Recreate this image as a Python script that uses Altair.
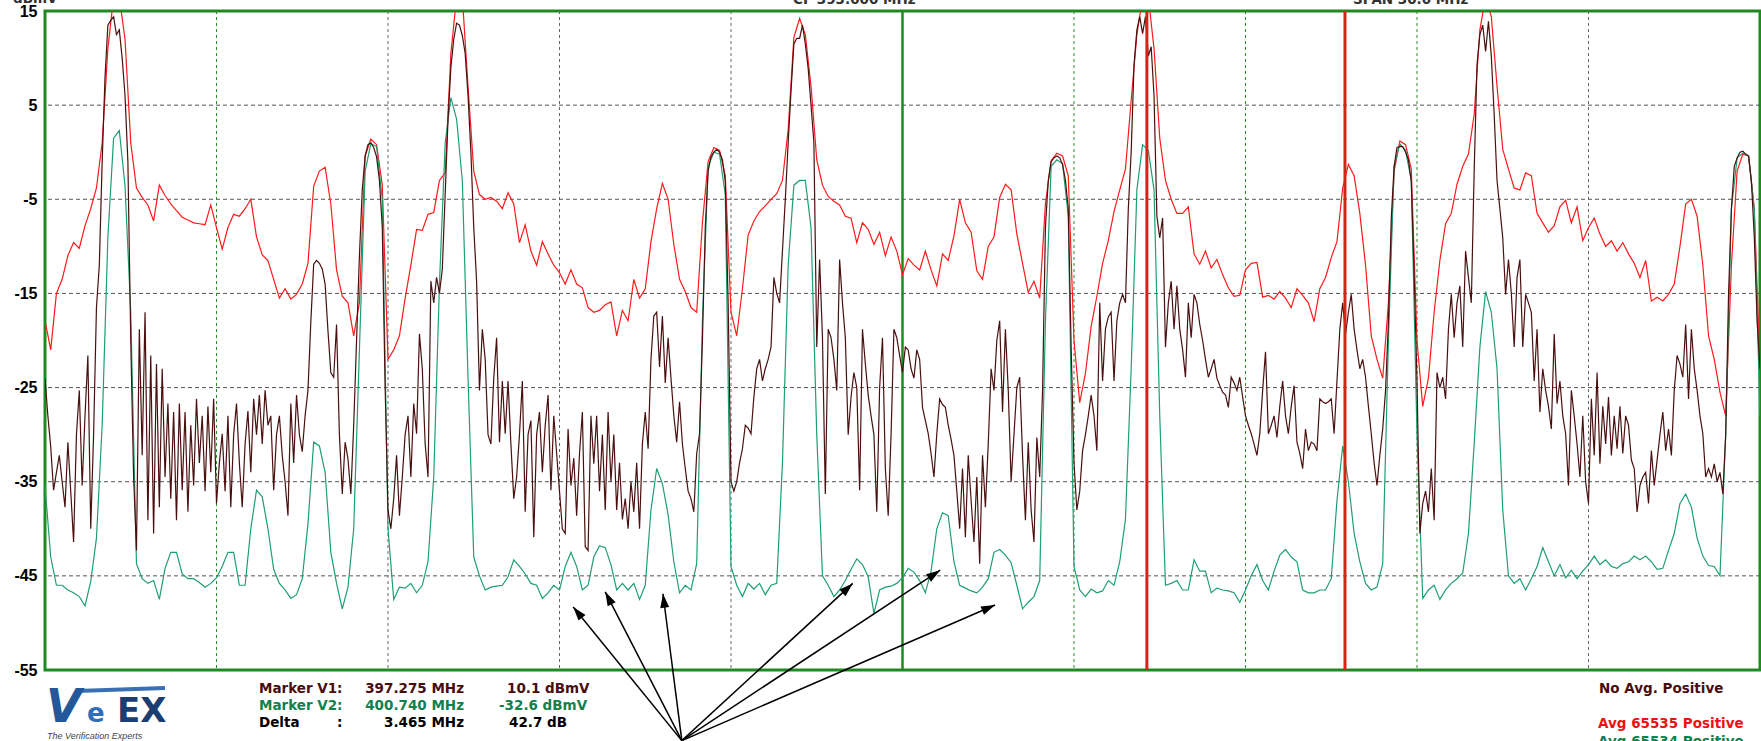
import math
import altair as alt
import pandas as pd

# ---------------- axis ranges ----------------
F_START, F_STOP = 378.0, 408.0          # MHz (CF 393 MHz, span 30 MHz)
DB_BOTTOM, DB_TOP = -55, 15             # dBmV
PLOT_W, PLOT_H = 1715, 659
Y_TICKS = [15, 5, -5, -15, -25, -35, -45, -55]
H_GRID = [5, -5, -15, -25, -35, -45]
V_GRID_GREEN = [381, 396, 399, 402]
V_GRID_GREY = [384, 387, 390, 405]
CENTER = [393]
MARKERS = [397.275, 400.740]

# ---------------- red trace (Avg 65535 Positive), 0.1 MHz step ----------------
red_1 = [-17.9, -21, -15, -13.5, -11, -9.6, -10.2, -7.8, -6, -3.8,
         1, 11, 16.5, 16.5, 12, 1, -3.8, -4.8, -5.6, -7.3,
         -3.5, -4.6, -5.5, -6.2, -6.9, -7.2, -7.5, -7.6, -7.7, -5.6,
         -8, -10.3, -8, -6.6, -6.8, -6, -5, -9, -10.9, -11.5,
         -13.5, -15.5, -14.5, -15.6, -15.1, -14, -11.8, -3.6, -2, -1.6,
         -5.5, -12.5, -15.3, -16, -19.5, -16, -0.4, 1.4, 0.8, -3.5,
         -22, -21, -19.5, -15.5, -12, -8.2, -8.3, -6.6, -6.4, -3,
         -2.2, 10.5, 16.5, 16.5, 7, -2]
red_2 = [-4.5, -5, -4.8, -5.2, -6, -4.3, -5.5, -9.6, -7.7, -10.5,
         -12, -9.5, -10.8, -12, -12.8, -14, -12.5, -14, -14.4, -16.5,
         -17, -16.8, -16.2, -15.9, -19.5, -16.8, -17.9, -13.5, -15.5, -14.5,
         -9.5, -6, -3.3, -5, -9.8, -13.5, -14.8, -16.5, -17, -7.5,
         -1, 0.5, 0.2, -2.5, -17, -19.5, -14.5, -8.8, -7.3, -6.3,
         -5.7, -5, -4.4, -3, 2.4, 12.2, 14.2, 12.5, 7, -0.8,
         -3.5, -4.7, -5.2, -5.6, -6.8, -7, -9.6, -7.5, -8.2, -9.8,
         -8.5, -11, -9, -10.5, -13]
red_3 = [-11.3, -12, -12.5, -10.5, -12.5, -14.2, -10.8, -11.5, -8.9, -5,
         -7.5, -8.5, -12.6, -13.5, -10, -9, -4.8, -3.4, -4, -8.7,
         -11.8, -14.9, -13.7, -15.5, -5.5, -0.9, -0.1, -0.4, -2.5, -20,
         -26.6, -23.5, -18.5, -15.3, -11.8, -9.4, -6.3, -4, -1.8, 5.5,
         12.5, 16.5, 16.5, 11, 1.5, -3, -5, -6.5, -6.5, -5.8,
         -10.8, -11.9, -10.5, -12.3, -11.4, -13, -14.4, -15.3, -15.2, -12.5,
         -11.8, -11.7, -15.4, -15.2, -15.6, -14.8, -15.5, -16.5, -14.5, -15.2,
         -16, -18, -14.5, -13.3, -11.2, -9.5]
red_4 = [-3.8, -1.3, -2.5, -6.5, -12, -19.5, -22, -24, -16, -2,
         1.2, 0.8, -1.8, -20, -27, -24, -17, -11.5, -7.6, -6.5,
         -3.4, -1.5, -0.2, 4, 13, 16.5, 14.4, 7, 0.3, -1.8,
         -3.8, -4, -2.2, -2.5, -6.5, -7.5, -8.5, -7.8, -5.8, -5.1,
         -7.5, -5.8, -9.4, -8, -7, -8.7, -10, -9.4, -10.5, -9.6,
         -10.8, -11.8, -13.3, -11.5, -15.8, -15.4, -15.8, -15.1, -14, -10,
         -5.5, -5, -6.8, -12, -19.5, -22, -25.5, -28, -12, -2,
         -0.2, -0.4, -6, -23]

# ---------------- green trace (Avg 65534 Positive), 0.1 MHz step ----------------
green_1 = [-35.4, -43, -46, -46, -46.5, -46.8, -47.2, -48.2, -45.6, -41,
           -29, -9, 1.5, 2.3, -3.6, -17, -43.7, -45.3, -45.8, -45.5,
           -47.5, -44.2, -42.5, -42.5, -44.8, -45.3, -45.3, -45.7, -46.2, -45.8,
           -45.2, -44, -42.5, -42.5, -46, -46, -40, -35.9, -36.6, -40,
           -44.3, -45.8, -46.5, -47.4, -47, -45.3, -39.5, -30.8, -31.2, -34,
           -42.5, -45.8, -48.5, -46.2, -40, -21, -2, 0.9, 0.6, -5,
           -40, -47.5, -46.2, -46.3, -45.8, -46.8, -46, -43.5, -34.5, -14,
           1, 5.8, 3.5, -3, -24, -43]
green_2 = [-45, -46.5, -46.2, -46.1, -46, -45.1, -43.3, -44, -44.8, -45.8,
           -46, -47.4, -46.8, -46, -46.5, -44, -42.5, -44, -46.5, -46,
           -43, -41.8, -42, -43.8, -46.5, -45.8, -46.5, -45.8, -47.5, -46,
           -38, -33.6, -35.2, -38.5, -43.5, -46.8, -46, -46.5, -43.7, -18,
           -1.5, 0, -0.2, -4.5, -44, -46, -47.2, -45.8, -46.4, -45.8,
           -47, -46, -45.8, -33, -12, -3.5, -3, -3, -8, -30,
           -45, -46, -47.2, -46.5, -45.5, -44.3, -43.2, -43.8, -45.1, -49,
           -46.5, -46.2, -46.1, -45.8, -45.2]
green_3 = [-44.2, -44.6, -45.5, -46.8, -44.5, -40, -38.3, -38.6, -43.5, -46,
           -46.3, -46.6, -46.8, -46.2, -45.3, -42.5, -42.2, -42.8, -43.6, -46,
           -48.5, -47.8, -47.2, -45.5, -18, -1.5, -0.8, -1.2, -6.8, -44,
           -46.5, -47.2, -46.4, -46.8, -46.6, -45.5, -46, -43.5, -39, -23,
           -4, 0.8, 0.2, -4, -28, -46, -45.8, -45.5, -46.5, -46.5,
           -43.3, -44.5, -44.5, -46.8, -46.3, -46.5, -46.6, -46.8, -47.8, -46.5,
           -45, -43.8, -45.5, -46.5, -44.5, -42.8, -42.2, -43, -43.5, -46.5,
           -46.8, -46.8, -46.5, -46.5, -45.3, -37, -31.2, -35, -40.5, -43.5,
           -45.8, -46.5, -46.2, -43.7, -20, -1.5, 0.9, 0.2, -3, -30,
           -47.4, -46.5, -46, -47.5, -46.5, -45.8, -45.3, -44.7, -40.5, -31,
           -20.7, -14.8, -17, -23, -38, -45, -45.8, -45.3, -46.5, -45.3,
           -44, -42, -43.5, -45, -43.8, -45.2, -44.4, -45.3, -44.5, -43.8,
           -42.9, -43.8, -43.3, -44, -44.2, -43.7, -43.5, -42.9, -43.3, -42.9,
           -43.5, -44.3, -44.2, -42.3, -40.5, -37.3, -36.3, -37.7, -41, -42.9,
           -43.9, -44, -45, -30, -6, -0.6, -0.1, -0.4, -6, -28]

# ---------------- dark trace (No Avg. Positive), 0.05 MHz step ----------------
dark_1 = [-24, -28, -31.3, -35.9, -34, -32.2, -35, -37.7, -30.8, -36,
          -41.4, -30, -25.3, -35.4, -28, -21.6, -40, -30, -16.5, -12,
          -1, 8, 13.5, 14, 14.4, 12.5, 13, 10, 6, -1,
          -20, -34.5, -42.3, -18.8, -32.2, -17, -39.1, -21.6, -40.5, -22.5,
          -37.7, -23, -34.5, -26.7, -36.8, -27.6, -39.1, -26.7, -35.9, -27.6,
          -38.2, -29, -35.4, -26.2, -33, -28, -36, -27, -34]
dark_2 = [-26.2, -37.3, -33, -29.9, -36, -28, -37.7, -30, -26.7, -33,
          -37.7, -31, -27.5, -34, -26.2, -30, -25.8, -31, -25.3, -29,
          -28, -35.9, -30, -28, -32.2, -35, -38.6, -26.7, -33, -25.8,
          -30, -31.8, -28, -25.3, -18, -11.9, -11.5, -11.8, -12.4, -14,
          -19, -23.4, -23.9, -18.3, -30, -36.3, -30.8, -32.6, -36.3, -29,
          -20, -11, -4, -0.4, 0.8, 1, 0.5, -0.5, -3, -8,
          -25, -38, -40, -36.8, -32.2, -38.6, -34.5, -30, -28, -34.5,
          -26.7, -29.9, -19.3, -23, -31, -34.5, -13.7, -16, -13.3, -15,
          -12.4, -4.5, 3.5, 9, 12, 13.7, 13.5, 12.4, 10.5, 6,
          0, -8, -13.7, -25.3]
dark_3 = [-18.8, -22, -30, -31, -24, -19.7, -30.8, -24.3, -29.9, -24.3,
          -31, -36.8, -34.5, -30, -24.3, -38.2, -30, -28.5, -40.9, -30,
          -27.6, -34, -29, -25.8, -35.9, -28, -32, -36, -40, -40.5,
          -29.4, -35.4, -32.5, -38.6, -32, -27.6, -41.9, -42.3, -28, -33.1,
          -28, -36, -30, -38, -27.6, -35, -30, -38, -33, -39,
          -36.8, -40, -35, -38.2, -33, -40, -31, -27.6, -31.5, -22,
          -17.4, -17, -22.8, -17.4, -24.5, -19.7, -24, -28, -30.8, -26.5,
          -31, -33.6, -36, -36.8, -38.2, -32, -29.9, -20, -8, -2,
          -0.5, 0, 0.3, 0, -0.8, -3.1, -16, -35, -36, -35,
          -33, -31.5, -29, -29.3, -29.9, -26, -23, -22, -24.3, -23,
          -22, -20.7, -13.3, -15, -16, -10.5, -5, 1, 6.5, 11.5,
          12.1, 12.1, 13.5, 11.5, 8.9, 5, 1, -20.7, -11.4, -19.7,
          -36.3, -18.8, -19.7, -22, -25.3, -11.4, -16, -19.7, -30, -26,
          -23.4, -25, -35.9, -18.8, -22.5, -25.8, -28, -30, -38.2, -25,
          -19.7, -33.6, -38.6, -30, -18.8, -19.7, -21.6, -23.4, -20.7, -21]
dark_4 = [-23, -24, -21, -22, -27.1, -28.5, -29.9, -32, -34.5, -29.9,
          -26.2, -26.8, -27.1, -29, -30.5, -32.2, -36, -40, -33.6, -40.9,
          -32.2, -37, -41.4, -34.5, -43.7, -32.2, -37.7, -31, -23, -25.3,
          -20, -17.9, -27.6, -18.8, -25.3, -35, -30, -25, -23.9, -32.2,
          -39.1, -30.8, -38, -41.4, -30.3, -34.5, -25.3, -8, -3, -1,
          -0.6, -0.4, -0.6, -1.3, -3, -6, -20.7, -33, -38, -36,
          -31.7, -30, -28, -25.8, -28, -31.7, -16, -24.3, -18.8, -17.5,
          -17, -24.3, -17.9, -16, -15.1, -16, -6, 0, 9.3, 13,
          14.4, 12.6, 14.4, 10.2, 11.2, 6, -6.8, -9.1, -7, -20.7,
          -16, -13.7, -18.8, -14.2, -18.8, -21, -23.9, -16, -19.7, -15.1,
          -16, -18.3, -20, -22, -23.9, -23, -22, -24, -24.8, -25.5,
          -25.8, -27.1, -23.9, -24.5, -25.3, -23.9, -26, -28, -29, -29.9,
          -31, -32.2, -29.9, -25.3, -21.2, -29.9, -29, -28, -30.3, -27,
          -24.3, -28, -29.9, -27, -24.8, -30.8, -32, -33.6, -29.4, -31.7,
          -30.8, -31, -31.7, -26.2, -26.5, -26.7, -26.5, -26.2, -29.9, -24.3,
          -18.8]
dark_5 = [-16, -19.3, -17, -15.1, -18.8, -21, -23, -22, -23.9, -27,
          -29.9, -33, -35.4, -32.2, -29.4, -25.3, -18, -7, -1.5, 0.5,
          0.6, 0.6, 0, -0.8, -3.1, -13, -24.3, -40.5, -37.3, -36,
          -38.2, -33.6, -39.1, -23.4, -25, -23.9, -26.2, -18.8, -15.1, -19.7,
          -16, -14.2, -20.7, -10.5, -13.3, -16, -2, 9.3, 12.5, 13.5,
          10.7, 13.9, 10.2, 4, -3, -6, -9.1, -15.1, -11.4, -15,
          -20.7, -13.3, -11.4, -20.7, -15.1, -16, -17, -24.3, -18.8, -27.6,
          -23, -25.3, -27, -29.4, -19.3, -26.7, -24.3, -28, -29.9, -35.4,
          -25.3, -28, -31, -34.5, -28, -35, -37.3, -26.2, -32.2, -23.4,
          -33.1, -27, -31, -26, -32.2, -28, -31.5, -27, -32, -28,
          -29, -32.7, -33.6, -38.2, -35.4, -34.5, -34, -37.3, -31.7, -35.4,
          -32.7, -30, -27.6, -31.7, -29.4, -32.2, -25.3, -21.6, -22.5, -23.9,
          -18.3, -26.2, -18.8, -23, -25.3, -28, -29.9, -34.5, -33.6, -34.5,
          -33.1, -35, -34, -36.3, -30, -15, -6, -1.5, -0.6, 0,
          0.1, -0.2, -0.4, -3.1, -9, -18, -23]

# ---------------- arrows (tips in MHz / dBmV) ----------------
ARROW_TIP_F = [387.24, 387.80, 388.81, 392.13, 393.66, 394.62]
ARROW_TIP_DB = [-48.3, -46.7, -46.9, -45.8, -44.4, -48.1]
ARROW_FROM = (389.14, -62.5)


def series(segments, step):
    f, v = [], []
    for start, vals in segments:
        for i, val in enumerate(vals):
            f.append(round(start + i * step, 3))
            v.append(val)
    return pd.DataFrame({"f": f, "v": v})


red_df = series([(378.0, red_1), (385.6, red_2), (393.1, red_3), (400.7, red_4)], 0.1)
green_df = series([(378.0, green_1), (385.6, green_2), (393.1, green_3)], 0.1)
dark_df = series([(378.0, dark_1), (380.95, dark_2), (385.65, dark_3),
                  (393.15, dark_4), (400.70, dark_5)], 0.05)

xs = alt.Scale(domain=[F_START, F_STOP], nice=False, zero=False)
ys = alt.Scale(domain=[DB_BOTTOM, DB_TOP], nice=False, zero=False)
yaxis = alt.Axis(values=Y_TICKS, labelExpr="'' + datum.value", labelFont="Liberation Sans",
                 labelFontWeight="bold", labelFontSize=16, labelColor="black",
                 ticks=False, domain=False, grid=False, labelPadding=8, title=None,
                 labelOverlap=False)


def Y(field):
    return alt.Y(field, scale=ys, axis=yaxis)


def X(field):
    return alt.X(field, scale=xs, axis=None)


hgrid = alt.Chart(pd.DataFrame({"y": H_GRID})).mark_rule(
    color="#555555", strokeDash=[4, 3], strokeWidth=1).encode(y=Y("y:Q"))

vgrid_g = alt.Chart(pd.DataFrame({"x": V_GRID_GREEN})).mark_rule(
    color="#2a8c2a", strokeDash=[3, 3], strokeWidth=1).encode(x=X("x:Q"))
vgrid_k = alt.Chart(pd.DataFrame({"x": V_GRID_GREY})).mark_rule(
    color="#666666", strokeDash=[3, 3], strokeWidth=1).encode(x=X("x:Q"))
center = alt.Chart(pd.DataFrame({"x": CENTER})).mark_rule(
    color="#1f8a1f", strokeWidth=2.5).encode(x=X("x:Q"))


def trace(df, color, width=1.2):
    return alt.Chart(df).mark_line(color=color, strokeWidth=width, clip=True).encode(
        x=X("f:Q"), y=Y("v:Q"), order="f:Q")


red_line = trace(red_df, "#ff1a1a")
green_line = trace(green_df, "#1e9e72")
dark_line = trace(dark_df, "#4a1010")

markers = alt.Chart(pd.DataFrame({"x": MARKERS})).mark_rule(
    color="#d42418", strokeWidth=3).encode(x=X("x:Q"))

# arrows
px_per_mhz = PLOT_W / (F_STOP - F_START)
px_per_db = PLOT_H / (DB_TOP - DB_BOTTOM)
arr = pd.DataFrame({"x1": ARROW_TIP_F, "y1": ARROW_TIP_DB})
arr["x0"] = ARROW_FROM[0]
arr["y0"] = ARROW_FROM[1]
arr["ang"] = [
    (math.degrees(math.atan2((a - ARROW_FROM[0]) * px_per_mhz,
                             (b - ARROW_FROM[1]) * px_per_db)) + 360) % 360
    for a, b in zip(ARROW_TIP_F, ARROW_TIP_DB)]

arrow_lines = alt.Chart(arr).mark_rule(color="black", strokeWidth=1.5, clip=False).encode(
    x=X("x0:Q"), y=Y("y0:Q"), x2="x1:Q", y2="y1:Q")
arrow_heads = alt.Chart(arr).mark_point(
    shape="M0,0L-0.64,2L0.64,2Z", size=196, filled=True, opacity=1,
    color="black", clip=False).encode(
    x=X("x1:Q"), y=Y("y1:Q"), angle=alt.Angle("ang:Q", scale=None))


def label(txt, px, py, color="black", size=13.5, font="DejaVu Sans", weight="bold",
          style="normal", align="left", baseline="middle"):
    return alt.Chart(pd.DataFrame({"t": [txt]})).mark_text(
        align=align, baseline=baseline, font=font, fontSize=size, fontWeight=weight,
        fontStyle=style, color=color).encode(
        text="t:N", x=alt.value(px), y=alt.value(py))


BROWN = "#4a0c0c"
GREEN_T = "#10804c"
texts = [
    label("dBmV", -32, -8, color="#333333", baseline="alphabetic"),
    label("CF  393.000 MHz", 748, -7, color="#333333", baseline="alphabetic"),
    label("SPAN    30.0 MHz", 1308, -7, color="#333333", baseline="alphabetic"),
    label("Marker V1", 214, 678, color=BROWN),
    label(":", 292, 678, color=BROWN),
    label("397.275 MHz", 419, 678, color=BROWN, align="right"),
    label("10.1 dBmV", 462, 678, color=BROWN),
    label("Marker V2", 214, 695, color=GREEN_T),
    label(":", 292, 695, color=GREEN_T),
    label("400.740 MHz", 419, 695, color=GREEN_T, align="right"),
    label("-32.6 dBmV", 454, 695, color=GREEN_T),
    label("Delta", 214, 712),
    label(":", 292, 712),
    label("3.465 MHz", 419, 712, align="right"),
    label("42.7 dB", 464, 712),
    label("No Avg. Positive", 1554, 678, color=BROWN),
    label("Avg 65535 Positive", 1553, 713, color="#ee1111"),
    label("Avg 65534 Positive", 1553, 731, color=GREEN_T),
    # logo
    label("V", 1, 711, color="#23589a", size=46, font="DejaVu Sans", style="italic",
          baseline="alphabetic"),
    label("e", 42, 711, color="#2f6fb8", size=26, font="DejaVu Sans",
          baseline="alphabetic"),
    label("EX", 72, 711, color="#1c3d70", size=34, font="DejaVu Sans",
          baseline="alphabetic"),
    label("The Verification Experts", 2, 725, color="#444444", size=9,
          font="Liberation Sans", weight="normal", style="italic"),
]
swoosh = alt.Chart(pd.DataFrame({"t": [0]})).mark_rule(
    color="#3a6fb2", strokeWidth=4).encode(
    x=alt.value(32), x2=alt.value(120), y=alt.value(680), y2=alt.value(677))

chart = alt.layer(
    hgrid, vgrid_g, vgrid_k, center,
    red_line, green_line, dark_line, markers,
    arrow_lines, arrow_heads, swoosh, *texts
).properties(
    width=PLOT_W, height=PLOT_H,
    autosize=alt.AutoSizeParams(type="none"),
    padding={"left": 45, "top": 11, "right": 1, "bottom": 71},
    background="white",
).configure_view(stroke="#1f8a1f", strokeWidth=3)

chart.save("out.html", embed_options={"renderer": "svg", "actions": False})
